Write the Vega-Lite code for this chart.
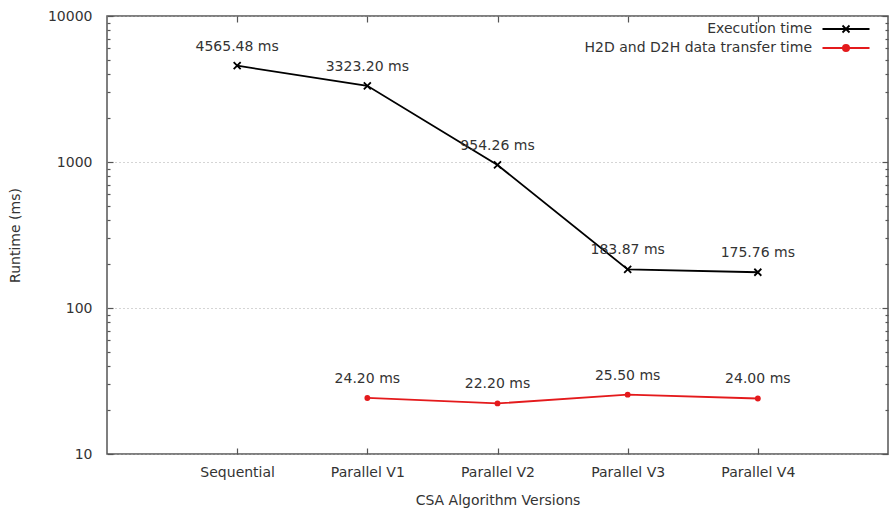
{
  "$schema": "https://vega.github.io/schema/vega-lite/v6.json",
  "width": 781,
  "height": 438,
  "autosize": {"type": "none"},
  "padding": {"left": 107, "top": 16, "right": 1, "bottom": 57},
  "config": {
    "font": "DejaVu Sans",
    "view": {"stroke": "#555", "strokeWidth": 1.5},
    "axis": {
      "labelFont": "DejaVu Sans",
      "labelFontSize": 14,
      "labelColor": "#333",
      "titleFont": "DejaVu Sans",
      "titleFontSize": 14,
      "titleFontWeight": "normal",
      "titleColor": "#333",
      "tickColor": "#555",
      "tickWidth": 1.2,
      "domain": false,
      "grid": false
    }
  },
  "data": {
    "values": [
      {"version": "Sequential", "series": "Execution time", "ms": 4565.48},
      {"version": "Parallel V1", "series": "Execution time", "ms": 3323.20},
      {"version": "Parallel V2", "series": "Execution time", "ms": 954.26},
      {"version": "Parallel V3", "series": "Execution time", "ms": 183.87},
      {"version": "Parallel V4", "series": "Execution time", "ms": 175.76},
      {"version": "Parallel V1", "series": "H2D and D2H data transfer time", "ms": 24.20},
      {"version": "Parallel V2", "series": "H2D and D2H data transfer time", "ms": 22.20},
      {"version": "Parallel V3", "series": "H2D and D2H data transfer time", "ms": 25.50},
      {"version": "Parallel V4", "series": "H2D and D2H data transfer time", "ms": 24.00}
    ]
  },
  "resolve": {"axis": {"x": "independent", "y": "independent"}},
  "layer": [
    {
      "mark": {"type": "line", "strokeWidth": 1.8},
      "encoding": {
        "x": {
          "field": "version", "type": "nominal",
          "sort": ["Sequential", "Parallel V1", "Parallel V2", "Parallel V3", "Parallel V4"],
          "scale": {"type": "point", "padding": 1},
          "axis": {"orient": "bottom", "title": "CSA Algorithm Versions", "labelAngle": 0, "tickSize": -6, "labelPadding": 17, "titlePadding": 14}
        },
        "y": {
          "field": "ms", "type": "quantitative",
          "scale": {"type": "log", "domain": [10, 10000], "nice": false},
          "axis": {"orient": "left", "values": [10, 100, 1000, 10000], "format": "d", "tickSize": -6, "labelPadding": 21, "grid": true, "gridColor": "#aaa", "gridDash": [1, 3], "title": "Runtime (ms)", "titlePadding": 25}
        },
        "color": {
          "field": "series", "type": "nominal",
          "scale": {"domain": ["Execution time", "H2D and D2H data transfer time"], "range": ["#000000", "#e41a1c"]},
          "legend": {
            "orient": "none", "legendX": 732, "legendY": 6,
            "title": null,
            "labelAlign": "right", "labelOffset": -41, "labelLimit": 400,
            "labelFontSize": 14, "labelColor": "#333", "labelFont": "DejaVu Sans",
            "symbolSize": 100, "symbolStrokeWidth": 1.8, "symbolType": "M-4.7,0L4.7,0",
            "rowPadding": 4,
            "encode": {
              "symbols": {
                "update": {
                  "shape": {"signal": "datum.value == 'Execution time' ? 'M-4.7,0L4.7,0M-0.7,-0.7L0.7,0.7M-0.7,0.7L0.7,-0.7' : 'M-4.7,0L4.7,0M-0.62,0A0.62,0.62,0,1,0,0.62,0A0.62,0.62,0,1,0,-0.62,0Z'"},
                  "fill": {"signal": "datum.value == 'Execution time' ? 'transparent' : '#e41a1c'"}
                }
              }
            }
          }
        }
      }
    },
    {
      "transform": [{"filter": "datum.series == 'Execution time'"}],
      "mark": {"type": "point", "shape": "M-1,-1L1,1M-1,1L1,-1", "filled": false, "color": "#000", "strokeWidth": 1.8, "size": 49, "opacity": 1},
      "encoding": {
        "x": {
          "field": "version", "type": "nominal",
          "sort": ["Sequential", "Parallel V1", "Parallel V2", "Parallel V3", "Parallel V4"],
          "axis": {"orient": "top", "labels": false, "title": null, "tickSize": -6}
        },
        "y": {
          "field": "ms", "type": "quantitative",
          "axis": {"orient": "right", "values": [10, 100, 1000, 10000], "labels": false, "title": null, "tickSize": -6}
        }
      }
    },
    {
      "transform": [{"filter": "datum.series != 'Execution time'"}],
      "mark": {"type": "point", "shape": "circle", "filled": true, "color": "#e41a1c", "size": 34, "opacity": 1},
      "encoding": {
        "x": {
          "field": "version", "type": "nominal",
          "sort": ["Sequential", "Parallel V1", "Parallel V2", "Parallel V3", "Parallel V4"],
          "axis": null
        },
        "y": {
          "field": "ms", "type": "quantitative",
          "axis": {"orient": "left", "values": [20, 30, 40, 50, 60, 70, 80, 90, 200, 300, 400, 500, 600, 700, 800, 900, 2000, 3000, 4000, 5000, 6000, 7000, 8000, 9000], "labels": false, "title": null, "tickSize": -3}
        }
      }
    },
    {
      "mark": {"type": "text", "dy": -19, "align": "center", "baseline": "middle", "fontSize": 14, "font": "DejaVu Sans", "color": "#333", "text": {"expr": "format(datum.ms, '.2f') + ' ms'"}},
      "encoding": {
        "x": {
          "field": "version", "type": "nominal",
          "sort": ["Sequential", "Parallel V1", "Parallel V2", "Parallel V3", "Parallel V4"],
          "axis": null
        },
        "y": {
          "field": "ms", "type": "quantitative",
          "axis": {"orient": "right", "values": [20, 30, 40, 50, 60, 70, 80, 90, 200, 300, 400, 500, 600, 700, 800, 900, 2000, 3000, 4000, 5000, 6000, 7000, 8000, 9000], "labels": false, "title": null, "tickSize": -3}
        }
      }
    }
  ]
}
